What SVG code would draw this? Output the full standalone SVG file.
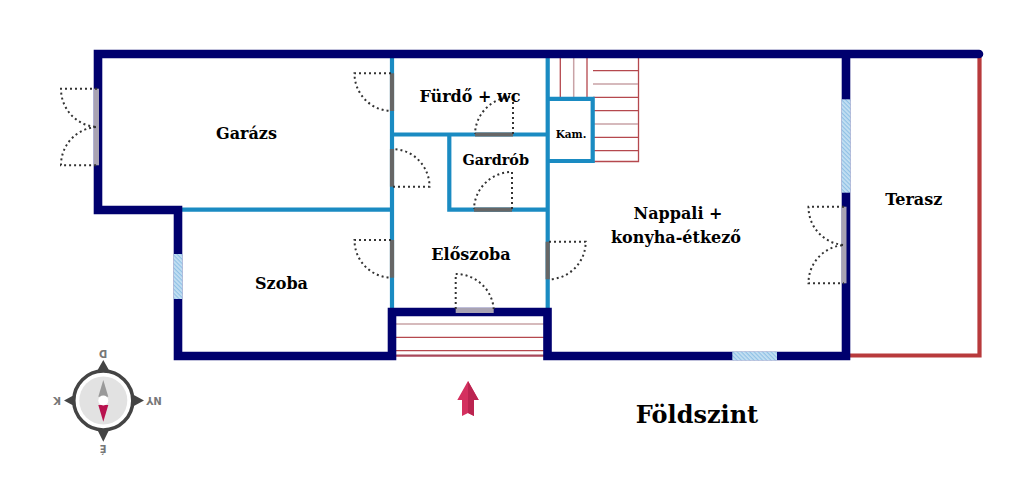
<svg xmlns="http://www.w3.org/2000/svg" width="1024" height="480" viewBox="0 0 1024 480">
<style>
.o{fill:none;stroke:#00006e;stroke-width:8.6;stroke-linecap:round;stroke-linejoin:miter}
.i{fill:none;stroke:#1a8bc2;stroke-width:4.2;stroke-linecap:square}
.r{fill:none;stroke:#b83a3c;stroke-width:4.2}
.s{fill:none;stroke:#b5484e;stroke-width:1.3}
.sp{fill:none;stroke:#c9a3a6;stroke-width:1.5}
.d{fill:none;stroke:#333;stroke-width:2;stroke-dasharray:2 3}
.g{stroke:#666;stroke-width:4.2;fill:none}
.gp{stroke:#a9a3b3;stroke-width:5;fill:none}
.w{fill:url(#h)}
text{font-family:"DejaVu Serif",serif;font-weight:700;fill:#000;text-anchor:middle}
.l{font-size:16px}
.c{font-family:"DejaVu Sans",sans-serif;font-size:10px;fill:#777}
</style>
<defs>
<pattern id="h" width="3" height="3" patternUnits="userSpaceOnUse" patternTransform="rotate(45)">
<rect width="3" height="3" fill="#c5e0f2"/><rect width="3" height="1.2" fill="#8fc1e6"/>
</pattern>
</defs>
<rect width="1024" height="480" fill="#fff"/>
<g id="stairs">
<path class="s" d="M593 54H638.500V161.500H593"/>
<path class="s" d="M593 70.700H638M593 97.300H638M593 110.700H638M593 137.300H638M593 150.700H638"/>
<path class="sp" d="M593 84H638M593 124H638M573.700 54V97"/>
<path class="s" d="M560.300 54V97M587 54V97"/>
<path class="sp" d="M396 324H544"/>
<path class="s" d="M396 337.300H544M396 350.700H544"/>
<path d="M396 355.700H544" fill="none" stroke="#a8485a" stroke-width="2.200"/>
</g>
<g id="walls">
<path class="r" d="M979.500 54V355.500H848"/>
<path class="i" d="M392 54V310M547.700 54V310M392 134.500H547.700M449.300 134.500V209.700H547.700M182 209.700H392M547.700 98.800H592.700V161H547.700"/>
<path class="o" d="M979 54H98V210H178V356H392V312H547.500V356H846V54"/>
</g>
<g id="windows">
<rect class="w" x="841.700" y="99.300" width="8.600" height="93.400"/>
<rect class="w" x="173.700" y="254" width="8.600" height="45"/>
<rect class="w" x="732.300" y="351.700" width="44.700" height="8.600"/>
</g>
<g id="doors">
<path class="g" d="M392 73.300V111"/><path class="d" d="M391 73.300H354.500A37.500 37.500 0 0 0 391 111"/>
<path class="g" d="M475 134.500H513"/><path class="d" d="M513 134V97A38 38 0 0 0 475 134"/>
<path class="g" d="M392 149V186.700"/><path class="d" d="M393 186.700H429.500A37.500 37.500 0 0 0 393 149"/>
<path class="g" d="M474 209.700H512"/><path class="d" d="M512 209V172A38 38 0 0 0 474 209"/>
<path class="g" d="M392 240V277.700"/><path class="d" d="M391 240H354.500A37.500 37.500 0 0 0 391 277.700"/>
<path class="g" d="M547.700 241.700V279.300"/><path class="d" d="M549 241.700H585.700A37.500 37.500 0 0 1 549 279.300"/>
<path class="gp" d="M455.700 310.500H493.700"/><path class="d" d="M455.700 309V274A38 38 0 0 1 493.700 309"/>
<path class="gp" d="M96.500 88.700V165.300"/><path class="d" d="M97 88.700H61A38 38 0 0 0 97 127A38 38 0 0 0 61 165.300H97"/>
<path class="gp" d="M844 206.700V283.300"/><path class="d" d="M844 206.700H808.500A38 38 0 0 0 844 245A38 38 0 0 0 808.500 283.300H844"/>
</g>
<g id="labels">
<text class="l" x="246.500" y="138.500">Garázs</text>
<text class="l" x="281.500" y="289">Szoba</text>
<text class="l" x="470" y="101.500">Fürdő + wc</text>
<text x="495.700" y="165" font-size="14.400px">Gardrób</text>
<text x="571" y="138" font-size="10.500px">Kam.</text>
<text class="l" x="471" y="259.500">Előszoba</text>
<text class="l" x="678" y="219">Nappali +</text>
<text class="l" x="676" y="243">konyha-étkező</text>
<text class="l" x="913.700" y="204.500">Terasz</text>
<text x="697" y="423" font-size="24px">Földszint</text>
</g>
<g id="arrow">
<path d="M468 381L478.700 400H474V416L468 413L462 416V400H457.300Z" fill="#d4305f"/>
<path d="M468 381L478.700 400H474V416L468 413Z" fill="#bb2450"/>
</g>
<g id="compass">
<path d="M103.300 360L110 372H96.500ZM103.300 441.700L110 428H96.500ZM64 400.500L76 394V407ZM144 400.500L132 394V407Z" fill="#444"/>
<circle cx="103.300" cy="400.500" r="29.500" fill="#fff" stroke="#444" stroke-width="3.500"/>
<circle cx="103.300" cy="400.500" r="24" fill="#e2e2e2"/>
<path d="M103.300 380L108.300 396.700H98.300Z" fill="#999"/>
<path d="M103.300 421.700L108.300 405H98.300Z" fill="#b8124f"/>
<circle cx="103.300" cy="400.500" r="5" fill="#fff"/>
<text class="c" transform="rotate(180 103 353)" x="103" y="356.500">D</text>
<text class="c" transform="rotate(180 57 400)" x="57" y="403.500">K</text>
<text class="c" transform="rotate(180 154 400)" x="154" y="403.500">NY</text>
<text class="c" transform="rotate(180 103 448)" x="103" y="451.500">É</text>
</g>
</svg>
